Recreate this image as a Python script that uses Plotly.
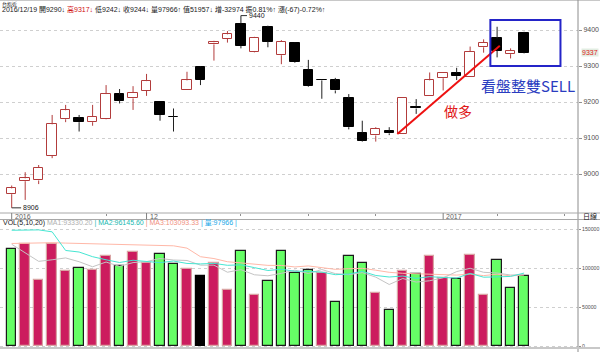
import plotly.graph_objects as go

# ---------------- data ----------------
OPEN  = [8944, 8980, 8982, 9050, 9152, 9155, 9144, 9153, 9221, 9210,
         9231, 9199, 9159, 9232, 9298, 9360, 9376, 9418, 9338, 9409,
         9330, 9365, 9290, 9261, 9260, 9210, 9115, 9107, 9120, 9111,
         9187, 9217, 9266, 9281, 9270, 9352, 9377, 9333, 9393]
HIGH  = [8968, 9005, 9025, 9164, 9192, 9164, 9192, 9247, 9236, 9244,
         9278, 9199, 9182, 9284, 9299, 9370, 9397, 9440, 9381, 9412,
         9372, 9366, 9317, 9262, 9267, 9222, 9148, 9130, 9130, 9210,
         9208, 9282, 9280, 9295, 9354, 9374, 9409, 9349, 9395]
LOW   = [8906, 8928, 8972, 9044, 9144, 9118, 9134, 9152, 9196, 9178,
         9217, 9148, 9118, 9232, 9247, 9315, 9365, 9349, 9337, 9352,
         9305, 9309, 9242, 9209, 9224, 9124, 9090, 9090, 9108, 9111,
         9167, 9217, 9232, 9261, 9270, 9337, 9324, 9321, 9335]
CLOSE = [8960, 8988, 9018, 9138, 9177, 9144, 9159, 9222, 9204, 9226,
         9258, 9164, 9158, 9260, 9261, 9366, 9388, 9356, 9379, 9368,
         9367, 9311, 9244, 9260, 9232, 9130, 9093, 9125, 9113, 9210,
         9182, 9260, 9280, 9272, 9340, 9365, 9343, 9342, 9337]
VOLUME = [124700, 130800, 84400, 130800, 96100, 100400, 97800, 115600, 102600, 120400,
          106900, 118200, 105600, 99600, 90000, 106900, 72700, 122500, 66200, 83500,
          122500, 93900, 97966, 94400, 57200, 115600, 107400, 68800, 46800, 96100,
          92200, 116000, 87900, 86600, 117800, 66200, 111300, 74900, 90000]
VOL_KIND = ["g", "r", "r", "r", "r", "g", "r", "r", "g", "r",
            "r", "g", "g", "r", "k", "r", "r", "g", "r", "g",
            "g", "g", "g", "r", "g", "g", "g", "r", "g", "r",
            "g", "r", "r", "g", "r", "r", "g", "g", "g"]
MA5  = [131000, 120000, 109000, 111000, 113400, 108500, 102000, 108100, 102500, 107400,
        108700, 112700, 110700, 110100, 104100, 104100, 95000, 98300, 91700, 90400,
        93500, 97700, 93330, 98500, 93200, 91800, 94500, 88700, 79200, 86900,
        82300, 84000, 87800, 95800, 100100, 94900, 94000, 91400, 92000]
MA10 = [149000, 149500, 149500, 147000, 123000, 121000, 115000, 111000, 107500, 110400,
        108600, 107300, 109400, 106300, 105700, 106400, 103900, 104500, 100900, 97200,
        98800, 96300, 96146, 95100, 91800, 92700, 96100, 90800, 88800, 90100,
        87000, 89300, 88200, 87500, 93500, 88600, 89000, 89600, 93900]
MA20 = [132000, 132500, 133000, 133000, 132500, 132000, 131000, 130500, 130000, 130000,
        129500, 129000, 129000, 126000, 115000, 112600, 108500, 107000, 105000, 103800,
        103700, 101800, 103093, 100700, 98700, 99500, 100000, 97600, 94900, 93600,
        92900, 92800, 91900, 91300, 92700, 90600, 92500, 90200, 91400]

DATE_LABEL_IDX  = [0, 10, 32]
DATE_LABEL_TEXT = ["2016", "12", "2017"]
DATE_MINOR_IDX  = [7, 17, 22, 27, 36, 41]
PRICE_TICKS = [9000, 9100, 9200, 9300, 9400]
VOL_TICKS = [0, 50000, 100000, 150000]
VOL_TICK_TEXT = ["0", "50000", "100000", "150000"]

HEADER_DATE = "2016/12/19"
HEADER_IDX = 22
HEADER_AMOUNT = "51957"
HEADER_DELTA = "-32974"
HEADER_AMP = "0.81%"
HEADER_CHG = "(-67)-0.72%"
VOL_HEADER = ["VOL(5,10,20)", "MA1:93330.20", "MA2:96145.60", "MA3:103093.33", "量:97966"]

# annotation geometry (data coordinates)
TREND_X = [28.6, 36.2]
TREND_Y = [9111, 9356]
BOX_X = [35.5, 40.7]
BOX_Y = [9300, 9428]

# ---------------- layout constants ----------------
W, H = 600, 352
PLOT_R = 578
X_RANGE = [-0.868, 42.0]
PRICE_RANGE = [8891.67, 9480.56]
VOL_RANGE = [-2575, 162238]


def py(pix):
    return 1 - pix / H


n = len(CLOSE)
idx = list(range(n))

UP_COL = "#B23C3C"

fig = go.Figure()

# wicks (split so they never cross hollow bodies)
for up in (True, False):
    xs, ys = [], []
    for i in idx:
        is_up = CLOSE[i] > OPEN[i]
        if is_up != up:
            continue
        top = max(OPEN[i], CLOSE[i])
        bot = min(OPEN[i], CLOSE[i])
        if HIGH[i] > top:
            xs += [i, i, None]
            ys += [HIGH[i], top, None]
        if LOW[i] < bot:
            xs += [i, i, None]
            ys += [bot, LOW[i], None]
    fig.add_trace(go.Scatter(x=xs, y=ys, mode="lines",
                             line=dict(color=UP_COL if up else "#202020", width=1),
                             hoverinfo="skip", showlegend=False, xaxis="x", yaxis="y"))

# bodies
body_h = [max(abs(CLOSE[i] - OPEN[i]), 1.5) for i in idx]
body_b = [min(OPEN[i], CLOSE[i]) for i in idx]
body_fill = ["#FFFFFF" if CLOSE[i] > OPEN[i] else "#000000" for i in idx]
body_line = [UP_COL if CLOSE[i] > OPEN[i] else "#000000" for i in idx]
fig.add_trace(go.Bar(x=idx, y=body_h, base=body_b, width=0.7,
                     marker=dict(color=body_fill, line=dict(color=body_line, width=1)),
                     hoverinfo="skip", showlegend=False, xaxis="x", yaxis="y"))

# volume bars
fill_map = {"g": "#66FF66", "r": "#CC1C5E", "k": "#000000"}
line_map = {"g": "#1A1A1A", "r": "#D9A3A3", "k": "#000000"}
fig.add_trace(go.Bar(x=idx, y=VOLUME, width=0.7,
                     marker=dict(color=[fill_map[k] for k in VOL_KIND],
                                 line=dict(color=[line_map[k] for k in VOL_KIND], width=1.2)),
                     hoverinfo="skip", showlegend=False, xaxis="x2", yaxis="y2"))

# volume moving averages
for arr, col in ((MA20, "#FFB8A8"), (MA5, "#C4C4C4"), (MA10, "#46E6D2")):
    fig.add_trace(go.Scatter(x=idx, y=arr, mode="lines", line=dict(color=col, width=1),
                             hoverinfo="skip", showlegend=False, xaxis="x2", yaxis="y2"))

# trend line "做多"
fig.add_trace(go.Scatter(x=TREND_X, y=TREND_Y, mode="lines",
                         line=dict(color="#EE1111", width=2),
                         hoverinfo="skip", showlegend=False, xaxis="x", yaxis="y"))

tick_font = dict(family="Liberation Sans, Noto Sans CJK TC", size=7, color="#505050")
vol_tick_font = dict(family="Liberation Sans, Noto Sans CJK TC", size=5.2, color="#505050")
grid_col = "#CFCFCF"

fig.update_layout(
    width=W, height=H, autosize=False,
    margin=dict(l=0, r=W - PLOT_R, t=0, b=0, pad=0),
    paper_bgcolor="white", plot_bgcolor="white",
    bargap=0, barmode="overlay",
    xaxis=dict(domain=[0, 1], range=X_RANGE, anchor="y", showgrid=False, zeroline=False,
               showticklabels=False, tickvals=DATE_MINOR_IDX, ticks="outside", ticklen=2,
               tickcolor="#909090", showline=False, fixedrange=True),
    xaxis2=dict(domain=[0, 1], range=X_RANGE, anchor="y2", matches="x", showgrid=False,
                zeroline=False, showticklabels=False, ticks="", showline=False),
    yaxis=dict(domain=[py(213), py(1)], range=PRICE_RANGE, side="right", anchor="x",
               tickvals=PRICE_TICKS, ticks="outside", ticklen=3, tickcolor="#909090",
               tickfont=tick_font, showgrid=True, gridcolor=grid_col, griddash="dot",
               gridwidth=1, zeroline=False, showline=False, automargin=False),
    yaxis2=dict(domain=[py(348), py(220)], range=VOL_RANGE, side="right", anchor="x2",
                tickvals=VOL_TICKS, ticktext=VOL_TICK_TEXT, ticks="outside", ticklen=2,
                tickcolor="#909090",
                tickfont=vol_tick_font, showgrid=True, gridcolor=grid_col, griddash="dot",
                gridwidth=1, zeroline=False, showline=False, automargin=False),
    font=dict(family="Liberation Sans, Noto Sans CJK TC"),
)

line_col = "#A8A8A8"
xr_full = W / PLOT_R
shapes = [
    dict(type="line", xref="paper", yref="paper", x0=0, x1=xr_full, y0=py(0.5), y1=py(0.5),
         line=dict(color="#C8C8C8", width=1)),
    dict(type="line", xref="paper", yref="paper", x0=1, x1=1, y0=0, y1=1,
         line=dict(color="#8C8C8C", width=1)),
    dict(type="line", xref="paper", yref="paper", x0=0, x1=xr_full, y0=py(213), y1=py(213),
         line=dict(color=line_col, width=1)),
    dict(type="line", xref="paper", yref="paper", x0=0, x1=xr_full, y0=py(219.5), y1=py(219.5),
         line=dict(color=line_col, width=1)),
    dict(type="line", xref="paper", yref="paper", x0=0, x1=xr_full, y0=py(348), y1=py(348),
         line=dict(color="#C8C8C8", width=2)),
    # blue box
    dict(type="rect", xref="x", yref="y", x0=BOX_X[0], x1=BOX_X[1], y0=BOX_Y[0], y1=BOX_Y[1],
         line=dict(color="#2424C8", width=2), fillcolor="rgba(0,0,0,0)"),
]
for i in DATE_LABEL_IDX:
    shapes.append(dict(type="line", xref="x", yref="paper", x0=i, x1=i, y0=py(213), y1=py(219.5),
                       line=dict(color="#808080", width=1)))

# high / low markers
hi_i = max(idx, key=lambda i: HIGH[i])
lo_i = min(idx, key=lambda i: LOW[i])
shapes.append(dict(type="line", xref="x", yref="y", x0=hi_i, x1=hi_i + 0.45,
                   y0=HIGH[hi_i], y1=HIGH[hi_i], line=dict(color="#303030", width=1)))
shapes.append(dict(type="line", xref="x", yref="y", x0=lo_i, x1=lo_i + 0.7,
                   y0=LOW[lo_i], y1=LOW[lo_i], line=dict(color="#303030", width=1)))
fig.update_layout(shapes=shapes)

small = dict(family="Liberation Sans, Noto Sans CJK TC", size=7, color="#202020")
ann = []
for i, t in zip(DATE_LABEL_IDX, DATE_LABEL_TEXT):
    ann.append(dict(x=i, xref="x", y=py(216.3), yref="paper", text=t, showarrow=False,
                    xanchor="left", yanchor="middle", xshift=1, font=dict(small, color="#606060")))
ann.append(dict(x=hi_i + 0.45, xref="x", y=HIGH[hi_i], yref="y", text=str(HIGH[hi_i]),
                showarrow=False, xanchor="left", yanchor="middle", font=small))
ann.append(dict(x=lo_i + 0.7, xref="x", y=LOW[lo_i], yref="y", text=str(LOW[lo_i]),
                showarrow=False, xanchor="left", yanchor="middle", font=small))
# last close label on the price axis
ann.append(dict(x=1, xref="paper", y=CLOSE[-1], yref="y", text=str(CLOSE[-1]),
                showarrow=False, xanchor="left", yanchor="middle", xshift=3,
                bgcolor="#E2EDE2", borderpad=0, font=dict(small, color="#E02020")))
# 日線 box
ann.append(dict(x=1, xref="paper", y=py(216.3), yref="paper", text="日線", showarrow=False,
                xanchor="left", yanchor="middle", xshift=3, font=dict(small, size=7)))
# headers
ann.append(dict(x=0, xref="paper", y=py(0), yref="paper", text="台指近", showarrow=False,
                xanchor="left", yanchor="top", xshift=1, borderpad=0, font=dict(small, size=5)))
hd = (f"{HEADER_DATE} 開{OPEN[HEADER_IDX]}↓ "
      f"<span style='color:#D01010'>高{HIGH[HEADER_IDX]}↓</span> "
      f"低{LOW[HEADER_IDX]}↓ 收{CLOSE[HEADER_IDX]}↓ 量{VOLUME[HEADER_IDX]}↑ "
      f"值{HEADER_AMOUNT}↓ 增{HEADER_DELTA} 振{HEADER_AMP}↑ 漲{HEADER_CHG}↑")
ann.append(dict(x=0, xref="paper", y=py(9.2), yref="paper", text=hd, showarrow=False,
                xanchor="left", yanchor="middle", xshift=1, borderpad=0, font=dict(small, size=7)))
vh = (f"{VOL_HEADER[0]} <span style='color:#B0B0B0'>{VOL_HEADER[1]}</span> "
      f"<span style='color:#20B8B0'>| {VOL_HEADER[2]}</span> "
      f"<span style='color:#F09080'>| {VOL_HEADER[3]}</span> "
      f"<span style='color:#20A8E8'>| {VOL_HEADER[4]} |</span>")
ann.append(dict(x=0, xref="paper", y=py(223.5), yref="paper", text=vh, showarrow=False,
                xanchor="left", yanchor="middle", xshift=1, font=dict(small, size=7)))
# hand-written notes
ann.append(dict(x=33.1, xref="x", y=9175, yref="y", text="做多", showarrow=False,
                xanchor="center", yanchor="middle",
                font=dict(family="Noto Sans CJK TC", size=14, color="#E01818")))
ann.append(dict(x=38.3, xref="x", y=9247, yref="y", text="看盤整雙SELL", showarrow=False,
                xanchor="center", yanchor="middle",
                font=dict(family="Noto Sans CJK TC", size=15, color="#2A3CC0")))
fig.update_layout(annotations=ann)

fig.write_html("out.html")
